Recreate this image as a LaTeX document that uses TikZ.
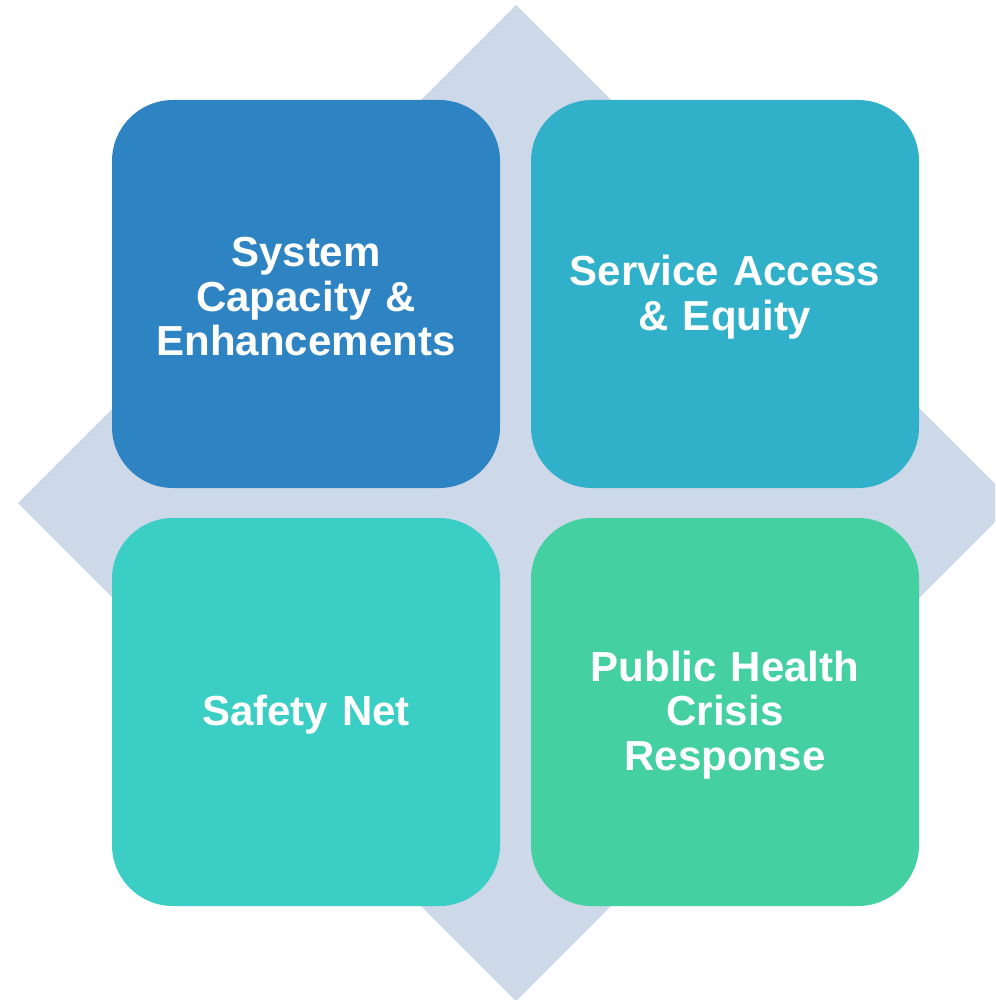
\documentclass[tikz,border=0pt]{standalone}
\usepackage{fontspec}
\setmainfont{Liberation Sans}
\definecolor{cDia}{HTML}{CDD8E8}
\definecolor{cTL}{HTML}{2E83C3}
\definecolor{cTR}{HTML}{31B0CA}
\definecolor{cBL}{HTML}{3ACEC4}
\definecolor{cBR}{HTML}{44D0A0}
\begin{document}
\begin{tikzpicture}[x=1pt,y=-1pt,
  quad/.style={rectangle, rounded corners=61pt, minimum width=388pt, minimum height=388pt, inner sep=0pt},
  qtext/.style={text=white, align=center, inner sep=0pt, font=\fontsize{42}{44.5}\selectfont\bfseries, text width=370pt}]
\useasboundingbox (0,0) rectangle (995,1000);
\clip (0,0) rectangle (995,1000);
\fill[cDia] (516,5) -- (1014,503) -- (516,1001) -- (18,503) -- cycle;
\node[quad, fill=cTL] (tl) at (306,294) {};
\node[quad, fill=cTR] (tr) at (725,294) {};
\node[quad, fill=cBL] (bl) at (306,712) {};
\node[quad, fill=cBR] (br) at (725,712) {};
\node[qtext] (tlt) at ([yshift=-3pt]tl.center) {System\\Capacity \&\\Enhancements};
\node[qtext] (trt) at ([yshift=-3pt]tr.center) {Service Access\\\& Equity};
\node[qtext] (blt) at ([yshift=-3pt]bl.center) {Safety Net};
\node[qtext] (brt) at ([yshift=-3pt]br.center) {Public Health\\Crisis\\Response};
\end{tikzpicture}
\end{document}
